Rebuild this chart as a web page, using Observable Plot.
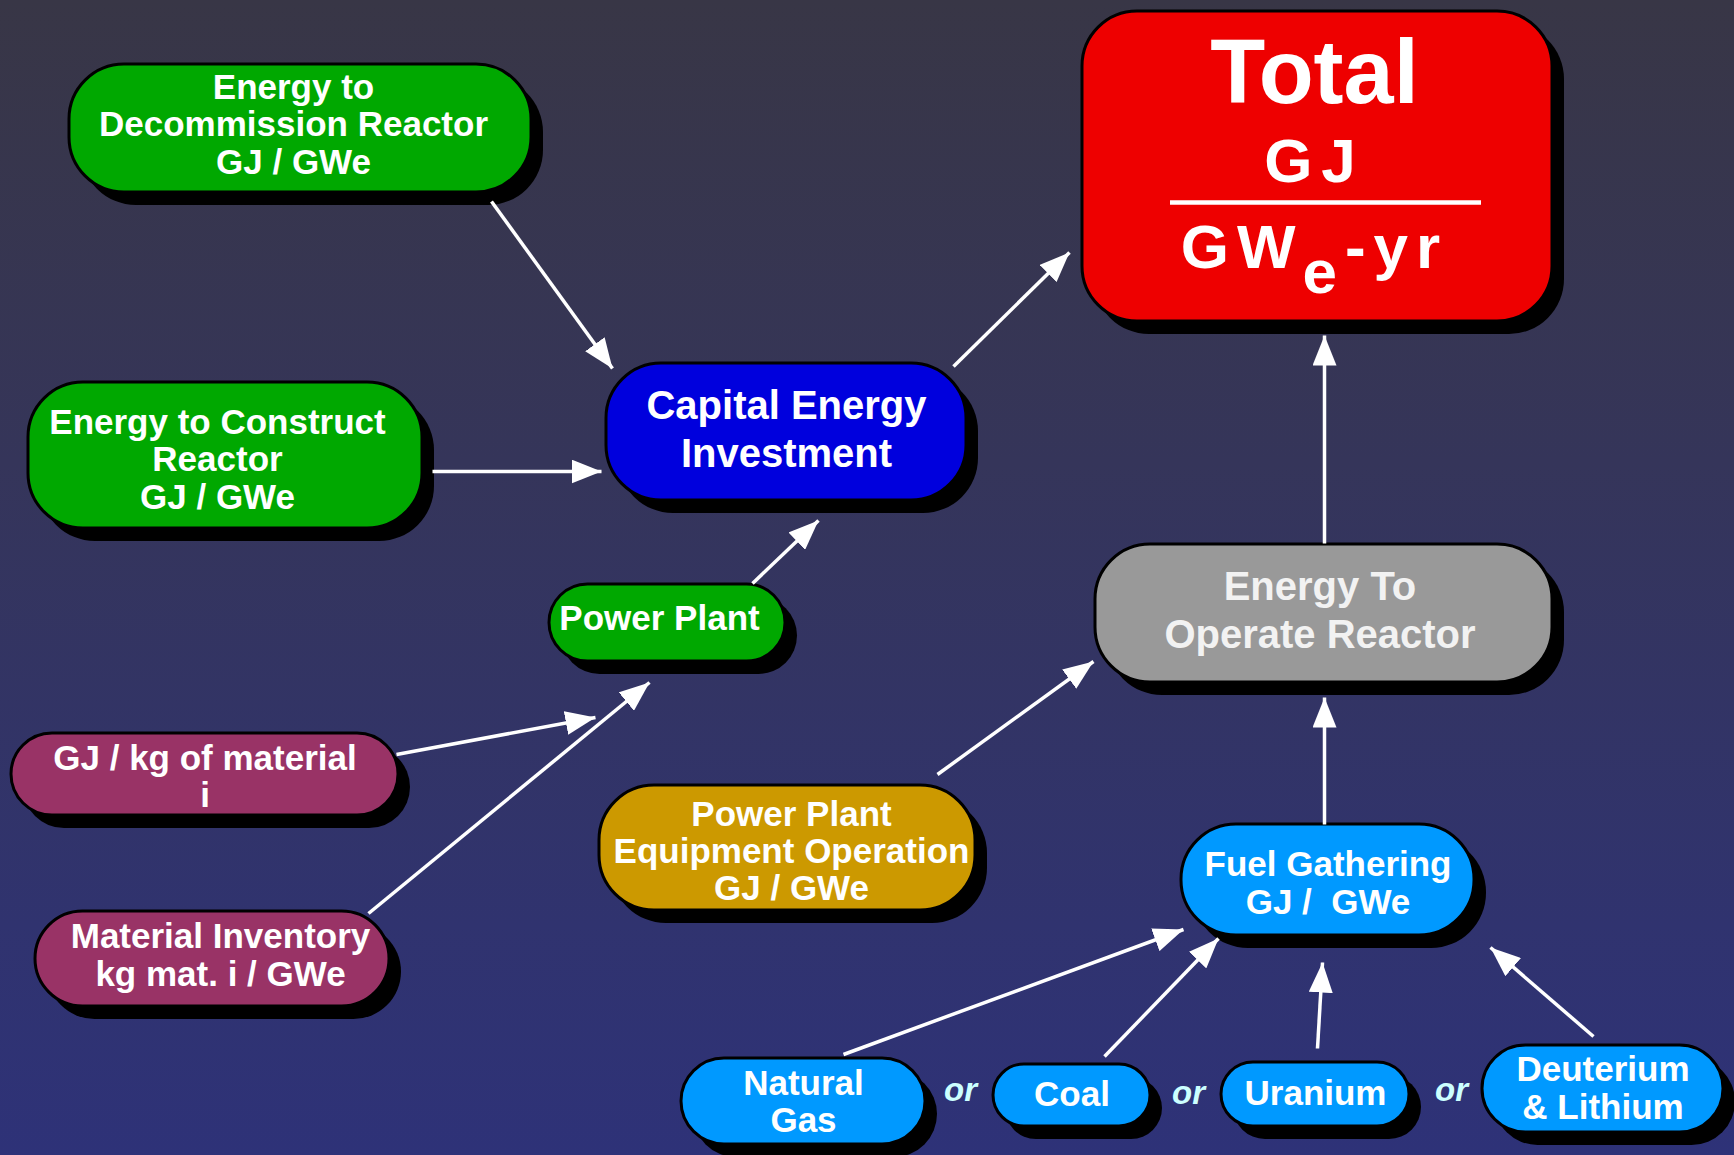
<!DOCTYPE html>
<html><head><meta charset="utf-8">
<script src="https://cdn.jsdelivr.net/npm/d3@7"></script>
<script src="https://cdn.jsdelivr.net/npm/@observablehq/plot@0.6"></script>
<style>
html,body{margin:0;padding:0;background:#343456;overflow:hidden;}
#chart svg{display:block;}
</style></head><body><div id="chart"></div>
<script>
// ---- Diagram data (diagram units = pixels of a 1734 x 1155 canvas) ----
const nodeIds    = ["decom","construct","capital","total","plant","gjkg","matinv","equip","operate","fuel","gas","coal","uranium","deut"];
const nodeLabels = [
  "Energy to\nDecommission Reactor\nGJ / GWe",
  "Energy to Construct\nReactor\nGJ / GWe",
  "Capital Energy\nInvestment",
  "",
  "Power Plant",
  "GJ / kg of material\ni",
  "Material Inventory\nkg mat. i / GWe",
  "Power Plant\nEquipment Operation\nGJ / GWe",
  "Energy To\nOperate Reactor",
  "Fuel Gathering\nGJ /\u00a0 GWe",
  "Natural\nGas",
  "Coal",
  "Uranium",
  "Deuterium\n& Lithium"
];
const nodeKinds = ["input","input","capital","total","input","material","material","operation","operate","fuel","fuel","fuel","fuel","fuel"];
const nodeX1 = [69, 28, 606,1082,549, 11, 35,599,1095,1181, 681, 993,1221,1482];
const nodeX2 = [531,422, 966,1552,785,398,389,975,1552,1474, 925,1150,1409,1723];
const nodeY1 = [64, 382, 363, 11, 584,733,911,785, 544, 824,1058,1064,1062,1045];
const nodeY2 = [192,528, 500, 321,661,815,1006,910,682, 935,1144,1126,1126,1132];
// label centre relative to box centre
const labelDx = [-7, -8, 0, 0, -8, 0, 8, 4, -4, 0, 0, 0, 0, 0];
const labelDy = [-4, 4, -4, 0, -5, 2, -4, 3, -5, 3, 0, -1, -1, -1];

const kindDomain = ["input","capital","total","material","operation","operate","fuel"];
const kindColors = ["#00a800","#0000dd","#ee0000","#993366","#cc9900","#999999","#0099ff"];

const totalLines = ["Total","GJ","GWe-yr"];
const totalLineDy = [-92, -4, 82];
const totalLineSize = [90, 62, 62];

const edgeFrom = ["decom","construct","capital","plant","gjkg","matinv","equip","operate","fuel","gas","coal","uranium","deut"];
const edgeTo   = ["capital","capital","total","capital","plant","plant","operate","total","operate","fuel","fuel","fuel","fuel"];
const edgeX1 = [491, 432, 953, 752, 396, 368, 937,1324,1324, 843,1104,1317,1593];
const edgeY1 = [201, 471, 366, 583, 754, 913, 774, 543, 824,1054,1056,1048,1036];
const edgeX2 = [612, 601,1069, 818, 595, 649,1093,1324,1324,1183,1218,1322,1490];
const edgeY2 = [368, 471, 252, 520, 717, 682, 661, 335, 697, 929, 938, 962, 947];

const orWords = ["or","or","or"];
const orX = [960, 1188, 1451];
const orY = [1090, 1093, 1090];

// ---- Build tables ----
const nodes = nodeIds.map((id, i) => ({
  id, label: nodeLabels[i], kind: nodeKinds[i],
  x1: nodeX1[i], x2: nodeX2[i], y1: nodeY1[i], y2: nodeY2[i],
  cx: (nodeX1[i] + nodeX2[i]) / 2, cy: (nodeY1[i] + nodeY2[i]) / 2,
  lx: (nodeX1[i] + nodeX2[i]) / 2 + labelDx[i], ly: (nodeY1[i] + nodeY2[i]) / 2 + labelDy[i]
}));
const edges = edgeFrom.map((f, i) => ({from: f, to: edgeTo[i], x1: edgeX1[i], y1: edgeY1[i], x2: edgeX2[i], y2: edgeY2[i]}));
const ors = orWords.map((w, i) => ({w, x: orX[i], y: orY[i]}));
const totalNode = nodes.find(n => n.id === "total");
const totalText = totalLines.map((t, i) => ({t, x: totalNode.cx - 3, y: totalNode.cy + totalLineDy[i], size: totalLineSize[i]}));
const fractionBar = [{x1: totalNode.cx - 147, x2: totalNode.cx + 164, y: totalNode.cy + 36}];

const big = new Set(["capital","operate"]);
const marks = [];
for (const n of nodes) {
  const rx = Math.min((n.y2 - n.y1) / 2, 55);
  marks.push(Plot.rect([n], {x1: "x1", x2: "x2", y1: "y1", y2: "y2", fill: "black", rx, dx: 12, dy: 13}));
  marks.push(Plot.rect([n], {x1: "x1", x2: "x2", y1: "y1", y2: "y2", fill: "kind", stroke: "black", strokeWidth: 3, rx}));
  if (n.label) {
    marks.push(Plot.text([n], {
      x: "lx", y: "ly", text: "label",
      fill: n.kind === "operate" ? "#f2f2f2" : "white",
      fontSize: big.has(n.id) ? 40 : 35, fontWeight: "bold",
      lineHeight: big.has(n.id) ? 1.19 : 1.07, lineAnchor: "middle", textAnchor: "middle"
    }));
  }
}
for (const d of totalText) {
  marks.push(Plot.text([d], {x: "x", y: "y", text: "t", fill: "white", fontWeight: "bold", fontSize: d.size, lineAnchor: "middle", textAnchor: "middle"}));
}
marks.push(Plot.ruleY(fractionBar, {x1: "x1", x2: "x2", y: "y", stroke: "white", strokeWidth: 4.5}));
marks.push(Plot.text(ors, {x: "x", y: "y", text: "w", fill: "#ccffff", fontSize: 33, fontWeight: "bold", fontStyle: "italic", lineAnchor: "middle"}));
marks.push(Plot.link(edges, {x1: "x1", y1: "y1", x2: "x2", y2: "y2", stroke: "white", strokeWidth: 3.5}));

const chart = Plot.plot({
  width: 1734, height: 1155, margin: 0,
  x: {domain: [0, 1734], range: [0, 1734], axis: null},
  y: {domain: [0, 1155], range: [0, 1155], axis: null},
  color: {type: "ordinal", domain: kindDomain, range: kindColors},
  style: {
    background: "linear-gradient(to bottom, #383646 0%, #35355a 40%, #30336f 80%, #2e3278 100%)",
    fontFamily: "'Liberation Sans', Arial, Helvetica, sans-serif",
    color: "white"
  },
  marks
});

// ---- Filled arrowheads & Total label styling ----
const ns = "http://www.w3.org/2000/svg";
const defs = document.createElementNS(ns, "defs");
const marker = document.createElementNS(ns, "marker");
marker.setAttribute("id", "filled-head");
marker.setAttribute("markerUnits", "userSpaceOnUse");
marker.setAttribute("markerWidth", "30");
marker.setAttribute("markerHeight", "24");
marker.setAttribute("viewBox", "0 0 30 24");
marker.setAttribute("refX", "30");
marker.setAttribute("refY", "12");
marker.setAttribute("orient", "auto");
const head = document.createElementNS(ns, "path");
head.setAttribute("d", "M0,0L30,12L0,24Z");
head.setAttribute("fill", "white");
marker.appendChild(head);
defs.appendChild(marker);
chart.insertBefore(defs, chart.firstChild);
chart.querySelectorAll('g[aria-label="link"] path').forEach(p => p.setAttribute("marker-end", "url(#filled-head)"));

chart.querySelectorAll("text").forEach(t => {
  const s = t.textContent;
  if (s === "GJ") t.style.letterSpacing = "9px";
  if (s === "GWe-yr") {
    t.style.letterSpacing = "8px";
    t.textContent = "GW";
    const e = document.createElementNS(ns, "tspan");
    e.setAttribute("dy", "0.4em");
    e.textContent = "e";
    const r = document.createElementNS(ns, "tspan");
    r.setAttribute("dy", "-0.4em");
    r.textContent = "-yr";
    t.appendChild(e); t.appendChild(r);
  }
});

document.getElementById("chart").appendChild(chart);
</script>
</body></html>
